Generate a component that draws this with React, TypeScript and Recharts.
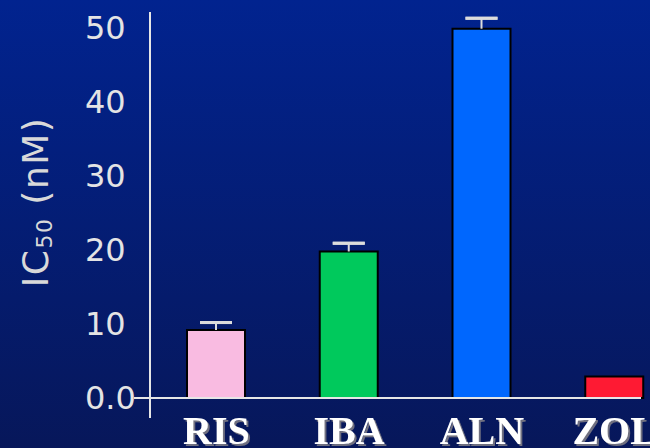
import React from "react";
import { BarChart, Bar, XAxis, YAxis, Cell, ErrorBar, ReferenceLine } from "recharts";

const drugs = ["RIS", "IBA", "ALN", "ZOL"];
const ic50 = [9.2, 19.8, 49.9, 2.9];
const sem = [1.0, 1.1, 1.4, null];
const barColors = ["#f9bbe1", "#00c95c", "#0067fe", "#fe1a33"];
const yTicks = [0, 10, 20, 30, 40, 50];
const yTickLabels = ["0.0", "10", "20", "30", "40", "50"];

// stem goes only upward; the cap is a zero-length bar with both ends at the top
const data = drugs.map((name, i) => {
  const e = sem[i];
  return {
    name,
    value: ic50[i],
    stem: e == null ? null : [0, e],
    cap: e == null ? null : [-e, e],
  };
});

const AXIS = "#e6e6e6";

const YTick = (props: any) => {
  const { x, y, payload } = props;
  const idx = yTicks.indexOf(payload.value);
  return (
    <text x={x - 65} y={y + 11} fill="#e4e4e4" fontSize={32} fontFamily="DejaVu Sans" textAnchor="start">
      {idx >= 0 ? yTickLabels[idx] : payload.value}
    </text>
  );
};

const XTick = (props: any) => {
  const { x, y, payload } = props;
  return (
    <text
      x={x}
      y={y + 26}
      fill="#ffffff"
      fontSize={40}
      fontFamily="Liberation Serif"
      fontWeight={700}
      textAnchor="middle"
      filter="url(#labelShadow)"
    >
      {payload.value}
    </text>
  );
};

// x axis drawn at 0, reaching a little left of the y axis
const ZeroLine = (props: any) => {
  const { x1, y1, x2, y2 } = props;
  return <line x1={x1 - 16} y1={y1} x2={x2 - 40} y2={y2} stroke={AXIS} strokeWidth={2} />;
};

const App: React.FC = () => {
  return (
    <div
      style={{
        position: "absolute",
        left: 0,
        top: 0,
        width: 650,
        height: 448,
        overflow: "hidden",
        background: "linear-gradient(#01238f, #07175a)",
      }}
    >
      <BarChart
        width={681}
        height={448}
        data={data}
        margin={{ top: 12, right: 0, bottom: 0, left: 0 }}
        barCategoryGap={0}
      >
        <defs>
          <filter id="labelShadow" x="-10%" y="-10%" width="130%" height="130%">
            <feDropShadow dx={2} dy={2} stdDeviation={0.6} floodColor="#6f7080" floodOpacity={1} />
          </filter>
        </defs>
        <XAxis
          dataKey="name"
          height={30}
          axisLine={false}
          tickLine={false}
          tickSize={0}
          tickMargin={0}
          interval={0}
          tick={<XTick />}
        />
        <YAxis
          type="number"
          domain={[-2.7, 52.16]}
          ticks={yTicks}
          allowDataOverflow
          width={150}
          axisLine={{ stroke: AXIS, strokeWidth: 2 }}
          tickLine={false}
          tickSize={0}
          tickMargin={0}
          tick={<YTick />}
        />
        <ReferenceLine y={0} shape={<ZeroLine />} />
        <Bar dataKey="value" barSize={58} stroke="#000" strokeWidth={2} isAnimationActive={false}>
          {data.map((d, i) => (
            <Cell key={d.name} fill={barColors[i]} />
          ))}
          <ErrorBar dataKey="stem" width={0} stroke="#dcdcdc" strokeWidth={2} direction="y" />
          <ErrorBar dataKey="cap" width={16} stroke="#dcdcdc" strokeWidth={3} direction="y" />
        </Bar>
        <text
          transform="translate(48,202) rotate(-90)"
          textAnchor="middle"
          fill="#d9d9d9"
          fontSize={36}
          fontFamily="DejaVu Sans"
          letterSpacing={1.5}
        >
          IC
          <tspan fontSize={22} dy={4}>
            50
          </tspan>
          <tspan dy={-4}> (nM)</tspan>
        </text>
      </BarChart>
    </div>
  );
};

export default App;
